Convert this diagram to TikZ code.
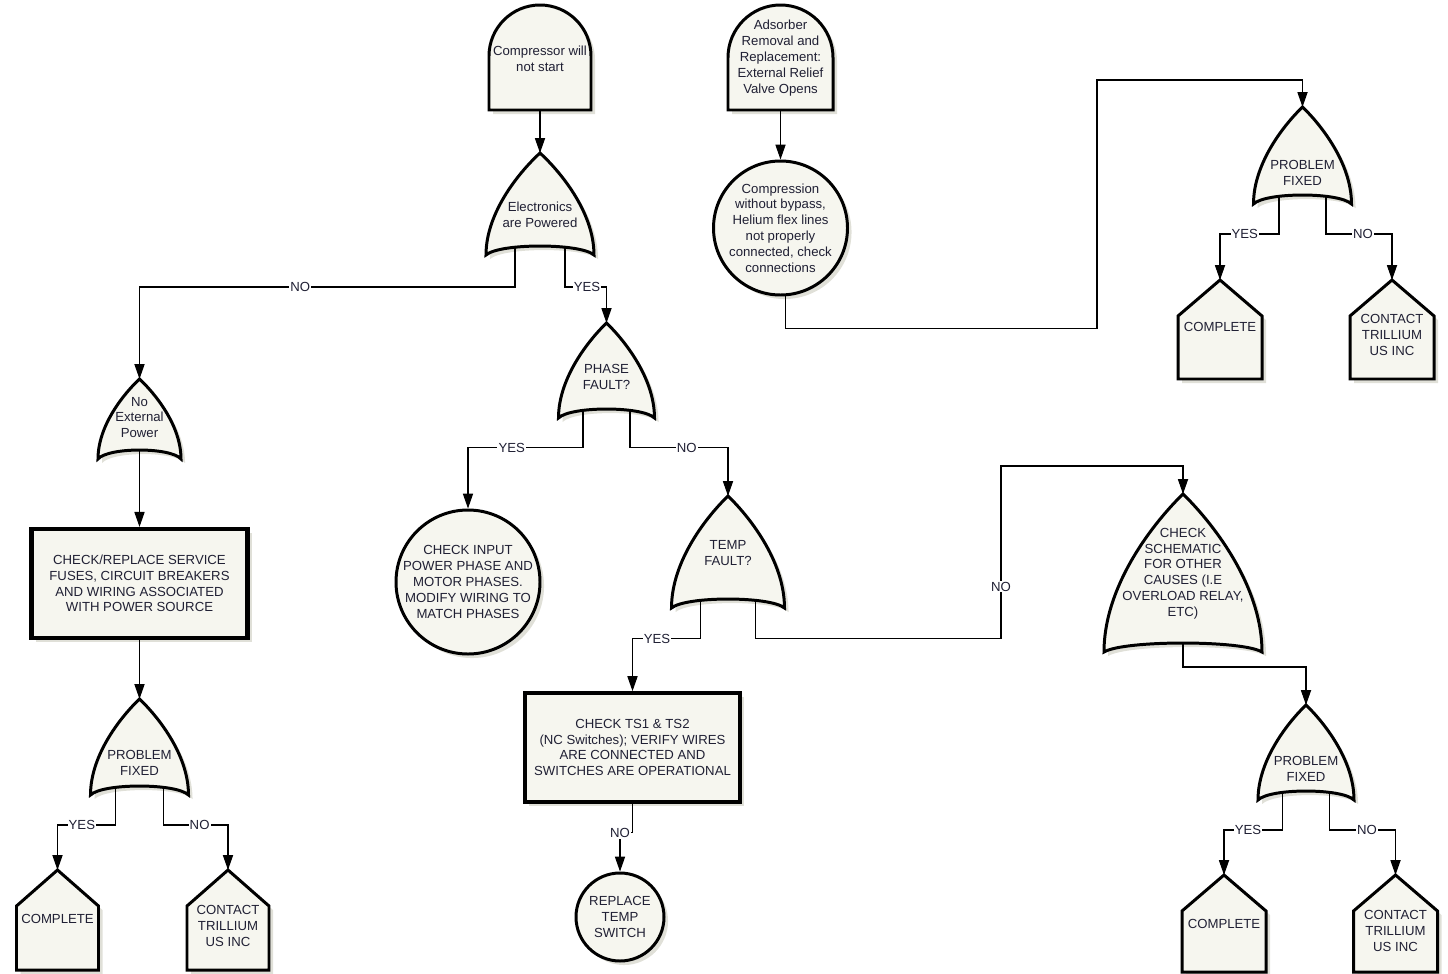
\documentclass[tikz,border=0pt]{standalone}
\usepackage{fontspec}
\setmainfont{Liberation Sans}
\usetikzlibrary{arrows.meta}

\definecolor{shapefill}{RGB}{246,246,239}
\definecolor{shadowgray}{RGB}{224,224,216}
\definecolor{inkcol}{RGB}{32,32,52}

\newcommand{\diagfont}{\fontsize{7.5}{9}\selectfont}
\def\px{0.02cm}

\tikzset{
  txt/.style={align=center, font=\diagfont, text=inkcol, inner sep=0pt},
  lbl/.style={fill=white, font=\diagfont, text=inkcol, inner sep=0.6pt},
  shadowed/.style={preaction={fill=shadowgray, draw=none, transform canvas={xshift=2.3pt, yshift=-2.3pt}}},
  gateline/.style={draw=black, line width=1.7pt, fill=shapefill, miter limit=4, shadowed},
  circ/.style={circle, draw=black, line width=1.7pt, fill=shapefill, inner sep=0pt, shadowed},
  actbox/.style={rectangle, draw=black, line width=2.4pt, fill=shapefill, txt, shadowed},
  link/.style={draw=black, line width=0.6pt, -{Triangle[length=8.5pt, width=5.8pt]}},
}

% gate: name, x, tip y, half width, height, text y, leg offset, text
\newcommand{\orgate}[8]{%
  \draw[gateline] (#2-#4,#3+#5)
    .. controls (#2-#4,#3+0.57*#5) and (#2-0.35*#4,#3+0.17*#5) .. (#2,#3)
    .. controls (#2+0.35*#4,#3+0.17*#5) and (#2+#4,#3+0.57*#5) .. (#2+#4,#3+#5)
    .. controls (#2+0.75*#4,#3+#5-1.33*\dip) and (#2-0.75*#4,#3+#5-1.33*\dip) .. cycle;
  \coordinate (#1-tip) at (#2,#3);
  \coordinate (#1-l) at (#2-#7,#3+#5-\dip+1);
  \coordinate (#1-r) at (#2+#7,#3+#5-\dip+1);
  \coordinate (#1-b) at (#2,#3+#5-\dip);
  \node[txt] (#1) at (#2,#6) {#8};
}

% top event: name, x, top y, half width, bottom y, text y, text
\newcommand{\topevent}[7]{%
  \draw[gateline] (#2-#4,#5) -- (#2-#4,#3+#4)
    arc[start angle=180, end angle=0, radius=#4*\px] -- (#2+#4,#5) -- cycle;
  \coordinate (#1-b) at (#2,#5);
  \node[txt] (#1) at (#2,#6) {#7};
}

% house: name, x, peak y, half width, bottom y, text y, text
\newcommand{\house}[7]{%
  \draw[gateline] (#2-#4,#5) -- (#2-#4,#3+\shoulder) -- (#2,#3)
    -- (#2+#4,#3+\shoulder) -- (#2+#4,#5) -- cycle;
  \coordinate (#1-top) at (#2,#3);
  \node[txt] (#1) at (#2,#6) {#7};
}

\begin{document}
\begin{tikzpicture}[x=\px, y=-\px]
  % Sizes
  \pgfmathsetmacro{\dip}{9}
  \pgfmathsetmacro{\shoulder}{36}
  \useasboundingbox (0,0) rectangle (1448,974);

  % top events
  \topevent{cws}{540}{5}{51}{110}{58.5}{Compressor will\\not start}
  \topevent{arr}{780.5}{5}{52.5}{110}{58}{Adsorber\\Removal and\\Replacement:\\External Relief\\Valve Opens}

  % gates
  \orgate{ep}{540}{153}{54}{102}{214.5}{25}{Electronics\\are Powered}
  \orgate{phf}{606.5}{323}{48}{95}{377}{23.5}{PHASE\\FAULT?}
  \orgate{nep}{139.5}{379}{41.5}{80}{417.5}{0}{No\\External\\Power}
  \orgate{pfa}{139.5}{699}{49}{96}{763}{24}{PROBLEM\\FIXED}
  \orgate{tmf}{728}{496}{56.5}{112}{553}{27.5}{TEMP\\FAULT?}
  \orgate{chs}{1183}{494}{79}{158}{573.5}{0}{CHECK\\SCHEMATIC\\FOR OTHER\\CAUSES (I.E\\OVERLOAD RELAY,\\ETC)}
  \orgate{pfb}{1306}{705}{48}{95}{768.5}{23.3}{PROBLEM\\FIXED}
  \orgate{pfc}{1302.5}{107}{49}{97}{173}{23.5}{PROBLEM\\FIXED}

  % circles
  \node[circ, minimum size=144*\px] (cip) at (468,582) {};
  \node[txt] at (cip) {CHECK INPUT\\POWER PHASE AND\\MOTOR PHASES.\\MODIFY WIRING TO\\MATCH PHASES};
  \node[circ, minimum size=134*\px] (cwb) at (780.5,228) {};
  \node[txt] at (cwb) {Compression\\without bypass,\\Helium flex lines\\not properly\\connected, check\\connections};
  \node[circ, minimum size=88*\px] (rts) at (620,917) {};
  \node[txt] at (rts) {REPLACE\\TEMP\\SWITCH};

  % boxes
  \node[actbox, minimum width=216*\px, minimum height=109*\px] (crs) at (139.5,583.5)
    {CHECK/REPLACE SERVICE\\FUSES, CIRCUIT BREAKERS\\AND WIRING ASSOCIATED\\WITH POWER SOURCE};
  \node[actbox, minimum width=215*\px, minimum height=108.5*\px] (dcb) at (632.5,747.5)
    {CHECK TS1 \& TS2\\(NC Switches); VERIFY WIRES\\ARE CONNECTED AND\\SWITCHES ARE OPERATIONAL};

  % houses
  \house{cpa}{57.5}{870}{41}{970}{918.5}{COMPLETE}
  \house{cta}{228}{870}{41}{970}{926}{CONTACT\\TRILLIUM\\US INC}
  \house{cpb}{1220}{280}{42}{379}{327}{COMPLETE}
  \house{ctb}{1392}{280}{42}{379}{335}{CONTACT\\TRILLIUM\\US INC}
  \house{cpc}{1224}{875}{42}{972}{923.5}{COMPLETE}
  \house{ctc}{1395.5}{875}{42}{972}{931}{CONTACT\\TRILLIUM\\US INC}

  % junctions
  \coordinate (jnoa) at (1001,466);
  \coordinate (jnob) at (1097,80);

  % draw diagram
  \draw[link] (cws-b) -- (ep-tip);
  \draw[link] (ep-l) -- ++(0,40) -| node[lbl, pos=0.286] {NO} (nep-tip);
  \draw[link] (ep-r) -- ++(0,40) -| node[lbl, pos=0.265] {YES} (phf-tip);
  \draw[link] (phf-l) -- ++(0,37.5) -| node[lbl, pos=0.31] {YES} (cip.north);
  \draw[link] (phf-r) -- ++(0,37.5) -| node[lbl, pos=0.29] {NO} (tmf-tip);
  \draw[link] (nep-b) -- (crs.north);
  \draw[link] (crs.south) -- (pfa-tip);
  \draw[link] (pfa-l) -- ++(0,38) -| node[lbl, pos=0.29] {YES} (cpa-top);
  \draw[link] (pfa-r) -- ++(0,38) -| node[lbl, pos=0.28] {NO} (cta-top);
  \draw[link] (tmf-l) -- ++(0,38.5) -| node[lbl, pos=0.32] {YES} (dcb.north);
  \draw[link] (tmf-r) -- ++(0,38.5) -| node[lbl, pos=0.65] {NO} (jnoa) -| (chs-tip);
  \draw[link] (dcb.south) -- ++(0,29) -| node[lbl, pos=0.5] {NO} (rts.north);
  \draw[link] (chs-b) -- ++(0,24) -| (pfb-tip);
  \draw[link] (pfb-l) -- ++(0,38) -| node[lbl, pos=0.295] {YES} (cpc-top);
  \draw[link] (pfb-r) -- ++(0,38) -| node[lbl, pos=0.285] {NO} (ctc-top);
  \draw[link] (arr-b) -- (cwb.north);
  \draw[link] (cwb.-86) -- ++(0,32) -| (jnob) -| (pfc-tip);
  \draw[link] (pfc-l) -- ++(0,38) -| node[lbl, pos=0.29] {YES} (cpb-top);
  \draw[link] (pfc-r) -- ++(0,38) -| node[lbl, pos=0.28] {NO} (ctb-top);
\end{tikzpicture}
\end{document}
